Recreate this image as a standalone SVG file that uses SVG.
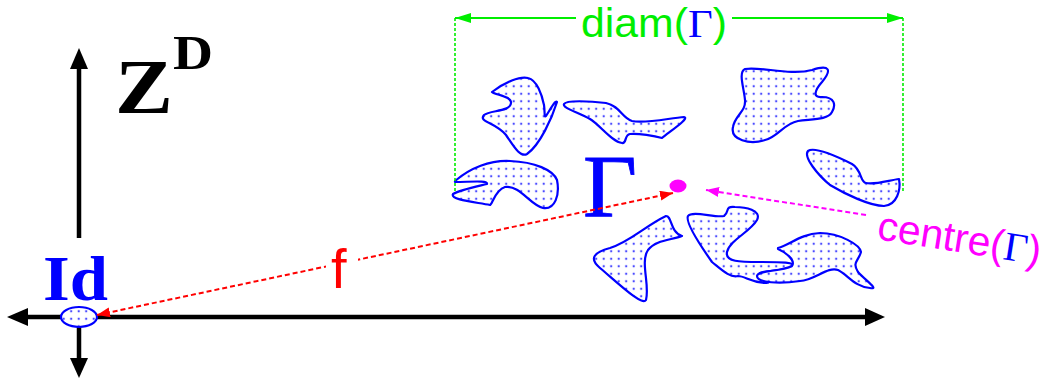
<svg xmlns="http://www.w3.org/2000/svg" width="1045" height="381" viewBox="0 0 1045 381">
<style>
.axis{stroke:#000;stroke-width:4.5;fill:none}
.head{fill:#000}
.blob{fill:url(#dots);stroke:#0000ff;stroke-width:2.2;stroke-linejoin:round}
.sans{font-family:"Liberation Sans",Arial,sans-serif}
.serif{font-family:"Liberation Serif","Times New Roman",serif}
</style>
<defs>
<pattern id="dots" width="7.5" height="7.5" patternUnits="userSpaceOnUse">
<rect width="7.5" height="7.5" fill="#fff"/>
<circle cx="3.7" cy="3.7" r="1.15" fill="#4a4aff"/>
</pattern>
<marker id="arR" viewBox="0 0 13 10" refX="13" refY="5" markerWidth="13" markerHeight="10" markerUnits="userSpaceOnUse" orient="auto-start-reverse"><path d="M0,0 L13,5 L0,10 z" fill="#ff0000"/></marker>
<marker id="arM" viewBox="0 0 13 10" refX="13" refY="5" markerWidth="13" markerHeight="10" markerUnits="userSpaceOnUse" orient="auto"><path d="M0,0 L13,5 L0,10 z" fill="#ff00ff"/></marker>
<marker id="arG" viewBox="0 0 16 10" refX="16" refY="5" markerWidth="16" markerHeight="10" markerUnits="userSpaceOnUse" orient="auto-start-reverse"><path d="M0,0 L16,5 L0,10 z" fill="#00ee00"/></marker>
</defs>
<rect width="1045" height="381" fill="#fff"/>

<g id="axes">
<line class="axis" x1="79" y1="68" x2="79" y2="238"/>
<polygon class="head" points="79,48 70,69 88,69"/>
<line class="axis" x1="26" y1="317" x2="867" y2="317"/>
<polygon class="head" points="7,317 28,308 28,326"/>
<polygon class="head" points="885,317 865,308 865,326"/>
<line class="axis" x1="79" y1="317" x2="79" y2="360"/>
<polygon class="head" points="79,378 70,358 88,358"/>
</g>

<g id="label-zd">
<text class="serif" x="115" y="113" font-size="78" font-weight="bold" fill="#000" textLength="58" lengthAdjust="spacingAndGlyphs">Z</text>
<text class="serif" x="173" y="69" font-size="48" font-weight="bold" fill="#000" textLength="40" lengthAdjust="spacingAndGlyphs">D</text>
</g>

<g id="node-id">
<ellipse cx="79" cy="317" rx="18" ry="10" class="blob"/>
<text class="serif" x="43" y="300" font-size="64" font-weight="bold" fill="#0000ff" textLength="65" lengthAdjust="spacingAndGlyphs">Id</text>
</g>

<g id="node-gamma">
<path id="b1" class="blob" d="M492,92 C505,82 520,76 528,78 C537,80 542,95 544,105 C545,112 544,118 546,116 C550,110 555,100 557,102 C552,118 540,145 527,154 C520,158 513,145 506,135 C495,122 478,122 484,115 C490,110 510,112 511,103 C512,96 495,95 492,92 Z"/>
<path id="b2" class="blob" d="M564,104 C566,100 590,101 606,103 C620,106 622,118 632,121 C645,124 670,118 684,117 C690,118 672,130 662,138 C655,136 638,133 630,134 C624,135 627,144 622,143 C612,142 600,125 590,119 C578,112 562,108 564,104 Z"/>
<path id="b3" class="blob" d="M745,69 C760,66 790,76 812,70 C830,64 832,70 822,82 C815,90 812,98 822,97 C835,97 836,105 832,112 C828,120 812,119 798,121 C783,124 778,137 765,140 C750,145 730,140 733,127 C735,115 746,112 745,100 C744,88 738,72 745,69 Z"/>
<path id="b4" class="blob" d="M808,151 C815,146 840,158 852,164 C862,170 860,182 866,183 C875,185 890,180 899,179 C901,190 897,205 884,206 C870,206 845,194 830,185 C818,175 803,157 808,151 Z"/>
<path id="b5" class="blob" d="M455,181 C470,168 490,160 510,161 C535,162 553,170 557,180 C560,195 555,210 543,208 C530,205 520,185 505,187 C495,190 492,205 490,205 C475,202 450,200 453,194 C460,190 470,188 487,184 C488,180 470,182 455,182 Z"/>
<path id="b6" class="blob" d="M666,216 C672,216 670,232 682,236 C672,240 655,240 648,250 C640,262 650,285 646,300 C642,306 620,285 600,268 C588,258 595,252 610,248 C630,242 645,226 666,216 Z"/>
<path id="b7a" class="blob" d="M688,216 C692,210 715,218 724,216 C730,212 724,206 735,207 C745,207 762,210 757,220 C750,232 730,240 727,252 C725,262 740,262 760,262 C780,262 798,262 792,267 C785,271 765,270 760,273 C758,278 775,283 765,283 C750,282 745,276 738,276 C730,278 722,270 712,262 C700,245 685,222 688,216 Z"/>
<path id="b7b" class="blob" d="M778,248 C790,245 800,234 820,233 C840,233 860,245 861,252 C858,262 852,262 858,272 C865,280 880,290 870,288 C855,287 848,275 838,270 C828,266 815,280 800,281 C780,284 757,283 757,276 C758,270 780,272 792,266 C796,260 785,252 778,249 Z"/>
<text class="serif" x="583" y="216" font-size="88" fill="#0000ff" stroke="#0000ff" stroke-width="0.8" textLength="54" lengthAdjust="spacingAndGlyphs">Γ</text>
<ellipse id="centre" cx="678" cy="186" rx="8.5" ry="6.5" fill="#ff00ff"/>
</g>

<g id="connectors">
<line x1="97" y1="315" x2="673" y2="193" stroke="#ff0000" stroke-width="2" stroke-dasharray="5,3" marker-start="url(#arR)" marker-end="url(#arR)"/>
<line x1="866" y1="215" x2="706" y2="190" stroke="#ff00ff" stroke-width="2" stroke-dasharray="5,3" marker-end="url(#arM)"/>
<line x1="455" y1="18" x2="576" y2="18" stroke="#00ee00" stroke-width="2" marker-start="url(#arG)"/>
<line x1="732" y1="18" x2="903" y2="18" stroke="#00ee00" stroke-width="2" marker-end="url(#arG)"/>
<line x1="455" y1="18" x2="455" y2="192" stroke="#00ee00" stroke-width="1.6" stroke-dasharray="3,2"/>
<line x1="903" y1="18" x2="903" y2="193" stroke="#00ee00" stroke-width="1.6" stroke-dasharray="3,2"/>
</g>

<g id="labels">
<text class="sans" x="581" y="37" font-size="41" fill="#00ee00" textLength="146" lengthAdjust="spacingAndGlyphs">diam(<tspan class="serif" fill="#0000ff">Γ</tspan>)</text>
<rect x="326" y="240" width="32" height="52" fill="#fff"/>
<text class="sans" x="331" y="288" font-size="56" fill="#ff0000">f</text>
<text class="sans" x="876" y="239" font-size="41" fill="#ff00ff" transform="rotate(9 876 239)">centre(<tspan class="serif" fill="#0000ff">Γ</tspan>)</text>
</g>
</svg>
